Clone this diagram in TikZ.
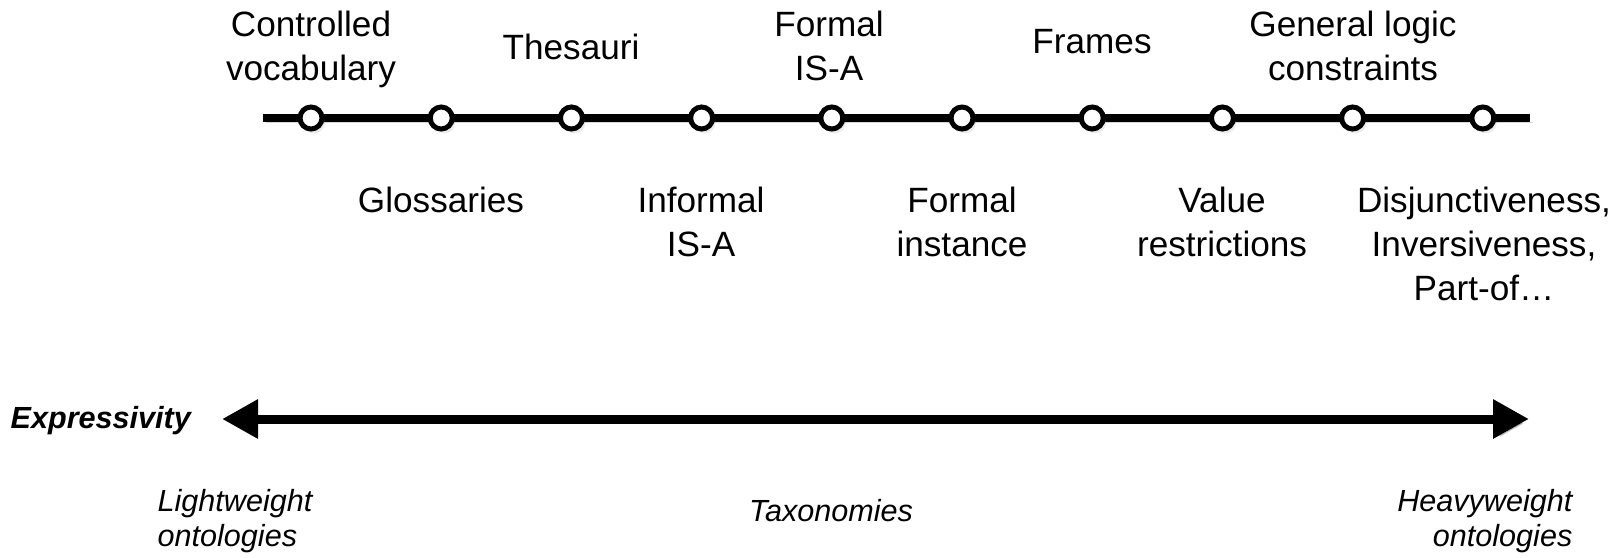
\documentclass[tikz,border=0pt]{standalone}
\usepackage{fontspec}
\setmainfont{Liberation Sans}
\usetikzlibrary{arrows.meta,shadows}

\begin{document}
\begin{tikzpicture}[x=1mm, y=1mm,
    shadowed/.style={preaction={draw=black, opacity=0.16,
        transform canvas={shift={(0.3mm,-0.45mm)}}}},
    scalebar/.style={line width=0.8mm, shadowed},
    axisbar/.style={line width=0.9mm, shadowed,
        {Triangle[length=3.6mm,width=3.7mm]}-{Triangle[length=3.6mm,width=3.7mm]}},
    milestone/.style={circle, draw, fill=white, line width=0.5mm, minimum size=2.2mm,
        drop shadow={opacity=0.16, shadow xshift=0.3mm, shadow yshift=-0.45mm}},
    feature/.style={align=center, font=\fontsize{10}{12.5}\selectfont},
    kindlabel/.style={font=\fontsize{8.7}{10}\selectfont\itshape}]
  \tikzstyle{every node}+=[inner sep=0pt]
  \useasboundingbox (0,0) rectangle (161.8,-55.7);

  % scale of the ten steps
  \coordinate (scaleL) at (26.3,-11.8);
  \coordinate (scaleR) at (153.0,-11.8);
  \draw [scalebar] (scaleL) -- (scaleR);
  \foreach \i in {1,...,10}
    \node [milestone] (m\i) at ({31.1+13.02*(\i-1)},-11.8) {};

  % steps named above the scale
  \node [feature, anchor=north] (vocab) at (31.1,-1.0) {Controlled\\vocabulary};
  \node [feature, anchor=north] (thes) at (57.1,-3.3) {Thesauri};
  \node [feature, anchor=north] (fisa) at (82.9,-1.0) {Formal\\IS-A};
  \node [feature, anchor=north] (frames) at (109.2,-2.9) {Frames};
  \node [feature, anchor=north] (logic) at (135.3,-1.0) {General logic\\constraints};

  % steps named below the scale
  \node [feature, anchor=north] (gloss) at (44.1,-18.6) {Glossaries};
  \node [feature, anchor=north] (iisa) at (70.1,-18.6) {Informal\\IS-A};
  \node [feature, anchor=north] (finst) at (96.2,-18.6) {Formal\\instance};
  \node [feature, anchor=north] (vrest) at (122.2,-18.6) {Value\\restrictions};
  \node [feature, anchor=north] (disj) at (148.4,-18.6) {Disjunctiveness,\\Inversiveness,\\Part-of…};

  % expressivity axis
  \coordinate (axisL) at (22.2,-41.9);
  \coordinate (axisR) at (152.9,-41.9);
  \draw [axisbar] (axisL) -- (axisR);
  \node [anchor=west, font=\fontsize{8.7}{10}\selectfont\bfseries\itshape] (expr) at (1.0,-42.1) {Expressivity};

  \node [kindlabel, align=left, anchor=west] (light) at (15.7,-52.1) {Lightweight\\ontologies};
  \node [kindlabel] (taxo) at (83.1,-51.1) {Taxonomies};
  \node [kindlabel, align=right, anchor=east] (heavy) at (157.3,-52.1) {Heavyweight\\ontologies};
\end{tikzpicture}
\end{document}
